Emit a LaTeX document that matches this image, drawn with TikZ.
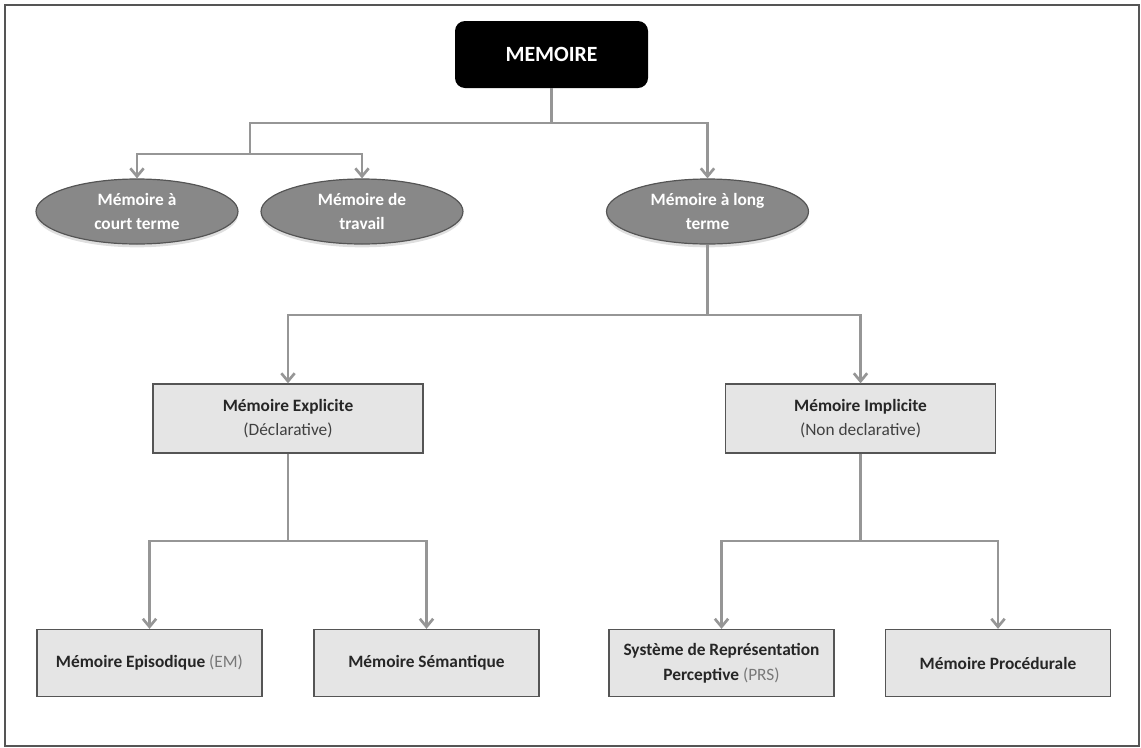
\documentclass[tikz,border=0pt]{standalone}
\usepackage{fontspec}
\setmainfont{Carlito}
\usetikzlibrary{arrows.meta,shapes.geometric,shadows}
\definecolor{linkgray}{RGB}{150,150,150}
\definecolor{ovalgray}{RGB}{136,136,136}
\definecolor{boxgray}{RGB}{229,229,229}
\definecolor{edgegray}{RGB}{85,85,85}
\definecolor{txtgray}{RGB}{120,120,120}
\begin{document}
\begin{tikzpicture}[%
        x=0.75pt, y=-0.75pt,
        every node/.style={font=\bfseries\fontsize{13}{18.5}\selectfont, align=center},
        rootbox/.style={rectangle, rounded corners=7.5pt, fill=black, text=white,
            minimum width=144.75pt, minimum height=50.25pt,
            font=\bfseries\fontsize{16.3}{20}\selectfont},
        oval/.style={ellipse, draw=edgegray, line width=0.9pt, fill=ovalgray, text=white,
            minimum width=151.5pt, minimum height=48.75pt, inner sep=0pt,
            drop shadow={shadow xshift=0pt, shadow yshift=-2.5pt, opacity=0.25}},
        midbox/.style={rectangle, draw=edgegray, line width=1pt, fill=boxgray, text=black!85,
            minimum width=202.5pt, minimum height=51.75pt},
        leafbox/.style={rectangle, draw=edgegray, line width=1pt, fill=boxgray, text=black!85,
            minimum width=168.75pt, minimum height=50.25pt},
        link/.style={draw=linkgray, line width=2pt},
        arrow/.style={link, -{Straight Barb[length=6pt, width=10pt]}},
        light/.style={font=\mdseries\fontsize{13}{18.5}\selectfont}
    ]
        \useasboundingbox (0,0) rectangle (1141,747);
        \draw [edgegray, line width=1.5pt] (5,5) rectangle (1139,746);

        % niveaux
        \node [rootbox] (mem) at (551.5,54.5) {MEMOIRE};

        \node [oval] (ct) at (137,211.5) {Mémoire à\\court terme};
        \node [oval] (tr) at (362,211.5) {Mémoire de\\travail};
        \node [oval] (lt) at (707.5,211.5) {Mémoire à long\\terme};

        \node [midbox] (expl) at (288,418.5)
            {Mémoire Explicite\\{\mdseries\color{black!75}(Déclarative)}};
        \node [midbox] (impl) at (860.5,418.5)
            {Mémoire Implicite\\{\mdseries\color{black!75}(Non declarative)}};

        \node [leafbox] (epi) at (149.5,663)
            {Mémoire Episodique {\mdseries\color{txtgray}(EM)}};
        \node [leafbox] (sem) at (426.5,663) {Mémoire Sémantique};
        \node [leafbox] (prs) at (721.5,663)
            {Système de Représentation\\Perceptive {\mdseries\color{txtgray}(PRS)}};
        \node [leafbox] (proc) at (998,663) {Mémoire Procédurale};

        % embranchements
        \coordinate (j1) at (551.5,123);
        \coordinate (j2) at (250,154);
        \coordinate (j3) at (707.5,315);
        \coordinate (j4) at (288,541);
        \coordinate (j5) at (860.5,541);

        \draw [link] (mem) -- (j1);
        \draw [link] (j1) -| (j2);
        \draw [link] (lt) -- (j3);
        \draw [link] (expl) -- (j4);
        \draw [link] (impl) -- (j5);

        \foreach \j/\n in
            {j2/ct,j2/tr,j1/lt,j3/expl,j3/impl,j4/epi,j4/sem,j5/prs,j5/proc}
            \draw [arrow] (\j) -| (\n);
    \end{tikzpicture}
\end{document}
